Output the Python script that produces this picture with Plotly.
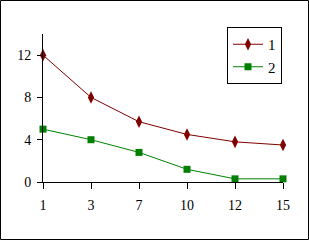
import plotly.graph_objects as go

categories = ["1", "3", "7", "10", "12", "15"]
series1 = [12, 8, 5.7, 4.5, 3.8, 3.5]
series2 = [5, 4, 2.8, 1.2, 0.3, 0.3]
y_ticks = [0, 4, 8, 12]

W, H = 309, 240
L, R, T, B = 43, 26, 34, 58
pw, ph = W - L - R, H - T - B

fig = go.Figure()
fig.add_trace(go.Scatter(x=categories, y=series1, name="1", mode="lines+markers",
                         line=dict(color="#800000", width=1),
                         marker=dict(symbol="diamond-tall", size=9, color="#800000"),
                         cliponaxis=False))
fig.add_trace(go.Scatter(x=categories, y=series2, name="2", mode="lines+markers",
                         line=dict(color="#008000", width=1),
                         marker=dict(symbol="square", size=7, color="#008000"),
                         cliponaxis=False))

font = dict(family="Liberation Serif", size=14, color="black")
fig.update_layout(
    width=W, height=H, margin=dict(l=L, r=R, t=T, b=B, pad=0),
    paper_bgcolor="white", plot_bgcolor="white", font=font,
    showlegend=True,
    legend=dict(x=(282 - L) / pw, y=(182 - 27) / ph, xanchor="right", yanchor="top",
                bordercolor="black", borderwidth=1, bgcolor="white",
                font=dict(family="Liberation Serif", size=15, color="black"), itemwidth=30,
                tracegroupgap=0),
    xaxis=dict(type="category", range=[0, 5], showline=True, linecolor="black", linewidth=1,
               showgrid=False, zeroline=False, ticks="outside", ticklen=6, tickcolor="black",
               tickfont=font, ticklabelstandoff=4),
    yaxis=dict(range=[0, 14], tickvals=y_ticks, showline=True, linecolor="black", linewidth=1,
               showgrid=False, zeroline=False, ticks="outside", ticklen=5, tickcolor="black",
               tickfont=font, ticklabelstandoff=3),
    shapes=[dict(type="rect", xref="paper", yref="paper",
                 x0=(0.5 - L) / pw, x1=(308.5 - L) / pw,
                 y0=(182 - 239.5) / ph, y1=(182 - 0.5) / ph,
                 line=dict(color="black", width=1), fillcolor="rgba(0,0,0,0)", layer="below")],
)
fig.write_html("out.html")
